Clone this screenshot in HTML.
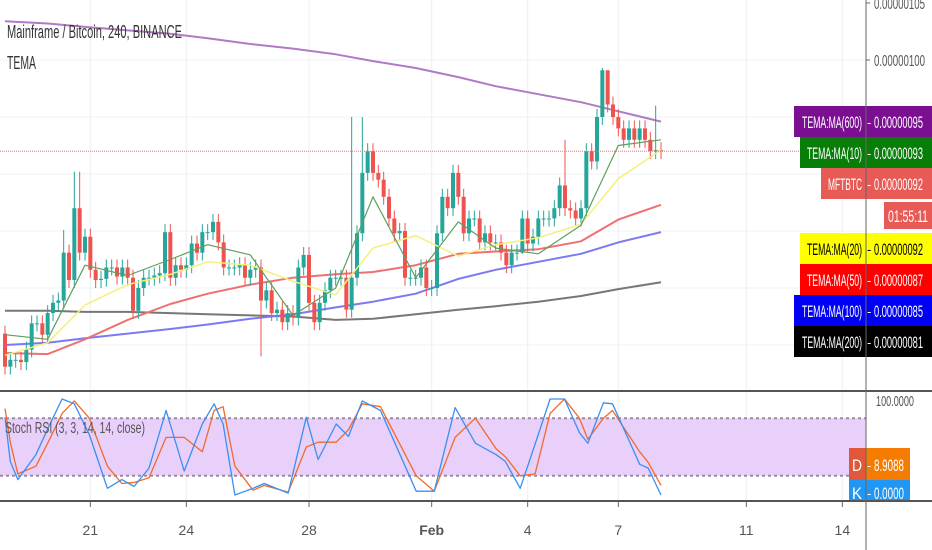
<!DOCTYPE html>
<html><head><meta charset="utf-8">
<style>
html,body{margin:0;padding:0;background:#fff;}
body{width:932px;height:550px;overflow:hidden;position:relative;font-family:"Liberation Sans",sans-serif;}
svg{position:absolute;left:0;top:0;}
</style></head>
<body>
<svg id="chart" width="932" height="550" viewBox="0 0 932 550"></svg>

<script>
const closes=[73.1,73.7,73.7,73.5,74.6,76.9,76.9,75.9,77.8,78.7,
78.9,83.1,80.7,87.0,83.1,84.5,81.6,80.7,80.8,81.8,
81.8,81.0,81.8,80.9,78.0,80.0,80.9,80.9,81.1,81.3,
84.9,80.9,82.0,81.6,82.0,83.9,83.1,84.9,84.9,85.8,
84.0,81.8,81.8,81.8,82.0,80.9,81.6,81.8,78.9,79.8,
77.8,78.1,77.0,77.8,77.4,81.8,82.9,78.7,77.0,78.7,
79.8,80.9,80.9,80.9,78.1,80.9,84.8,90.1,92.0,90.1,
89.5,88.0,86.1,84.8,85.0,80.9,80.9,80.9,81.8,80.0,
80.0,84.8,88.0,87.0,90.1,88.0,84.8,86.1,86.1,84.0,
84.8,84.0,84.0,83.1,82.0,83.1,83.1,86.1,83.9,84.5,
86.1,86.1,86.1,87.0,89.0,87.0,86.8,86.1,87.0,92.0,
91.1,95.0,99.1,96.1,95.0,94.0,93.0,94.0,93.0,94.0,
93.0,92.0,92.1,92.0];
const firstOpen=76.0;
const wickIdx=[11,13,14,48,65,67,105,112,113,122,97];
const wickHigh=[85.1,90.2,90.2,null,95.0,95.0,93.0,99.3,98.5,96.0,null];
const wickLow=[null,null,null,74.0,null,null,null,null,null,null,83.0];
const maIdx=[0,8,15,23,31,38,46,54,62,69,77,85,92,100,108,115,123];
const ma600=[103.4,103.2,102.9,102.6,102.3,101.9,101.4,101.0,100.5,99.9,99.3,98.5,97.7,97.0,96.3,95.5,94.6];
const ma200=[78.0,78.0,77.9,77.9,77.8,77.7,77.6,77.5,77.2,77.3,77.7,78.1,78.4,78.8,79.3,79.9,80.5];
const ma100=[75.0,75.2,75.6,76.0,76.4,76.8,77.3,77.7,78.3,78.8,79.5,80.8,81.6,82.3,83.0,84.0,84.9];
const ma50=[74.3,74.2,75.5,77.2,78.6,79.5,80.3,80.9,81.2,81.4,82.0,83.0,83.2,83.4,84.1,86.0,87.3];
const ma20=[74.1,75.2,78.5,80.3,81.2,82.3,82.0,80.6,79.4,83.5,84.6,82.8,83.8,84.4,85.6,89.6,92.1];
const ma10=[75.9,75.5,82.0,81.1,82.5,83.8,82.9,77.6,80.0,88.0,80.9,85.8,83.5,83.0,85.5,92.5,93.0];
const stochIdx=[0,1,2.4,5.8,8.1,10.7,13,15.8,19.2,21.9,24.2,27,30.2,33.6,37,39.2,40.9,43.1,46.5,48.6,53.1,56.5,58.7,62.1,64.4,67,70.4,77.1,80.5,84.4,88.2,92.1,93.8,96.6,99.4,102.2,104.9,107.7,109.3,112.2,113.9,119,120.6,123];
const stochK=[81,35,16,42,70,100,95,63,7,16,9,28,88,25,74,95,74,0,7,12,2,81,37,74,61,98,88,4,4,91,54,42,35,7,53,100,100,65,54,96,95,32,28,0];
const stochD=[90,55,22,30,55,85,98,80,30,12,13,18,60,60,45,88,92,30,5,10,3,50,55,55,68,95,92,20,4,60,80,48,40,20,22,85,100,80,58,80,88,45,34,10];
const priceTicks=["0.00000105","0.00000100"];
const priceTickVals=[105,100];
const dateLabels=["21","24","28","Feb","4","7","11","14"];
const dateIdx=[16,34,57,80,98,115,139,157];
const lastPrice=92.0;

const NS="http://www.w3.org/2000/svg";
const svg=document.getElementById('chart');
const xS=i=>5+i*(656/(closes.length-1));
const yP=v=>60+(100-v)*11.4;
const yS=v=>495-v*0.96;
function mk(t,a,p){const e=document.createElementNS(NS,t);for(const k in a)e.setAttribute(k,a[k]);(p||svg).appendChild(e);return e;}
function txt(s,x,y,len,fill,size,p,anchor){const e=mk('text',{x:x,y:y,'font-size':size||13,fill:fill,'font-family':'Liberation Sans, sans-serif'},p);
 if(len){e.setAttribute('textLength',len);e.setAttribute('lengthAdjust','spacingAndGlyphs');}
 if(anchor)e.setAttribute('text-anchor',anchor);
 e.textContent=s;return e;}

// grid
dateIdx.forEach(d=>{const g=mk('line',{x1:xS(d),x2:xS(d),y1:0,y2:500,stroke:'#eef0f4','stroke-width':1});

});
[100,95,90,85,80,75].forEach(v=>{const g=mk('line',{x1:0,x2:866,y1:yP(v),y2:yP(v),stroke:'#eef0f4','stroke-width':1});

});

// stoch band
const band=mk('rect',{x:0,y:yS(80),width:866,height:yS(20)-yS(80),fill:'#e8d0fa'});


[80,20].forEach(v=>{const l=mk('line',{x1:0,x2:866,y1:yS(v),y2:yS(v),stroke:'#9a8aa3','stroke-width':2,'stroke-dasharray':'3,3'});

});

function line(idx,vals,ys,col,w,name){
 const d=idx.map((i,k)=>(k?'L':'M')+xS(i).toFixed(1)+','+ys(vals[k]).toFixed(1)).join('');
 const p=mk('path',{d:d,fill:'none',stroke:col,'stroke-width':w,'stroke-linejoin':'round'});
 
 
}
line(maIdx,ma600,yP,'#b07ac4',2,'ma600-line');
line(maIdx,ma200,yP,'#777',2,'ma200-line');
line(maIdx,ma100,yP,'#7a7af5',2,'ma100-line');
line(maIdx,ma50,yP,'#f07070',2,'ma50-line');

// candles
closes.forEach((c,i)=>{
 const o=i?closes[i-1]:firstOpen;
 const up=c>=o;const col=up?'#26a69a':'#ef5350';
 let hi=Math.max(o,c)+0.7,lo=Math.min(o,c)-0.7;
 const w=wickIdx.indexOf(i);
 if(w>=0){if(wickHigh[w]!=null)hi=wickHigh[w];if(wickLow[w]!=null)lo=wickLow[w];}
 const x=xS(i);
 const g=mk('g',{});
 
 
 mk('line',{x1:x,x2:x,y1:yP(hi),y2:yP(lo),stroke:col,'stroke-width':1},g);
 const t=yP(Math.max(o,c)),b=yP(Math.min(o,c));
 mk('rect',{x:x-2,y:t,width:4,height:Math.max(1,b-t),fill:col},g);
});
line(maIdx,ma20,yP,'#f5f07a',1.5,'ma20-line');
line(maIdx,ma10,yP,'#5e9e5e',1.2,'ma10-line');

// last price dotted
const lp=mk('line',{x1:0,x2:866,y1:yP(lastPrice),y2:yP(lastPrice),stroke:'#f07070','stroke-width':1,'stroke-dasharray':'1,1'});



// stoch lines
line(stochIdx,stochD,yS,'#f26a2a',1.3,'stoch-d-line');
line(stochIdx,stochK,yS,'#3a8ff0',1.3,'stoch-k-line');

// separators & axes
const s1=mk('line',{x1:0,x2:932,y1:391,y2:391,stroke:'#555','stroke-width':2});


const s2=mk('line',{x1:0,x2:932,y1:501,y2:501,stroke:'#555','stroke-width':2});



priceTicks.forEach((t,k)=>{const y=yP(priceTickVals[k]);
 mk('line',{x1:866,x2:870,y1:y,y2:y,stroke:'#666'});
 const e=txt(t,874,y+6,51,'#555',16);
 
 });
const st=txt('100.0000',876,yS(100)+7,38,'#555',15);



dateLabels.forEach((t,k)=>{const x=xS(dateIdx[k]);
 mk('line',{x1:x,x2:x,y1:502,y2:507,stroke:'#666'});
 const e=txt(t,x,535,null,'#555',14,null,'middle');
 if(t==='Feb')e.setAttribute('font-weight','bold');
 
 });

// price labels
const labNames=['TEMA:MA(600)','TEMA:MA(10)','MFTBTC','TEMA:MA(20)','TEMA:MA(50)','TEMA:MA(100)','TEMA:MA(200)'];
const labVals=['0.00000095','0.00000093','0.00000092','0.00000092','0.00000087','0.00000085','0.00000081'];
const labTops=[106,137,168,233,264,295,326];
const labLefts=[794,800,821,800,800,794,794];
const labBg=['#7b0f92','#087d08','#e85a55','#ffff00','#f00','#0000f5','#000'];
const labFg=['#fff','#fff','#fff','#000','#fff','#fff','#fff'];
const labKeys=['ma600-label','ma10-label','last-price-label','ma20-label','ma50-label','ma100-label','ma200-label'];
labNames.forEach((n,k)=>{
 const g=mk('g',{});
 
 
 mk('rect',{x:labLefts[k],y:labTops[k],width:932-labLefts[k],height:31,fill:labBg[k]},g);
 const nl=n.length>=12?60:(n.length===11?55:34);
 txt(n,862-nl,labTops[k]+22,nl,labFg[k],17,g);
 txt('-',867,labTops[k]+21,null,labFg[k],13,g);
 txt(labVals[k],874,labTops[k]+22,49,labFg[k],17,g);
});
const tg=mk('g',{});


mk('rect',{x:884,y:202,width:48,height:27,fill:'#e85a55'},tg);
txt('01:55:11',888,222,40,'#fff',17,tg);

const dg=mk('g',{});


mk('rect',{x:849,y:448,width:61,height:32,fill:'#f57c00'},dg);
mk('rect',{x:849,y:448,width:17,height:32,fill:'#e0573a'},dg);
txt('D',852,471,10,'#fff',17,dg);
txt('-',867,470,null,'#fff',13,dg);
txt('8.9088',874,471,30,'#fff',17,dg);
const kg=mk('g',{});


mk('rect',{x:849,y:480,width:61,height:20,fill:'#2196f3'},kg);
txt('K',852,499,10,'#fff',17,kg);
txt('-',867,498,null,'#fff',13,kg);
txt('0.0000',874,499,30,'#fff',17,kg);

const ax=mk('line',{x1:866,x2:866,y1:0,y2:550,stroke:'#666','stroke-width':1});



const ti=txt('Mainframe / Bitcoin, 240, BINANCE',7,38,175,'#333',18);


const te=txt('TEMA',7,69,29,'#333',18);


const sr=txt('Stoch RSI (3, 3, 14, 14, close)',5,433,140,'#555',16);


</script>
</body></html>
